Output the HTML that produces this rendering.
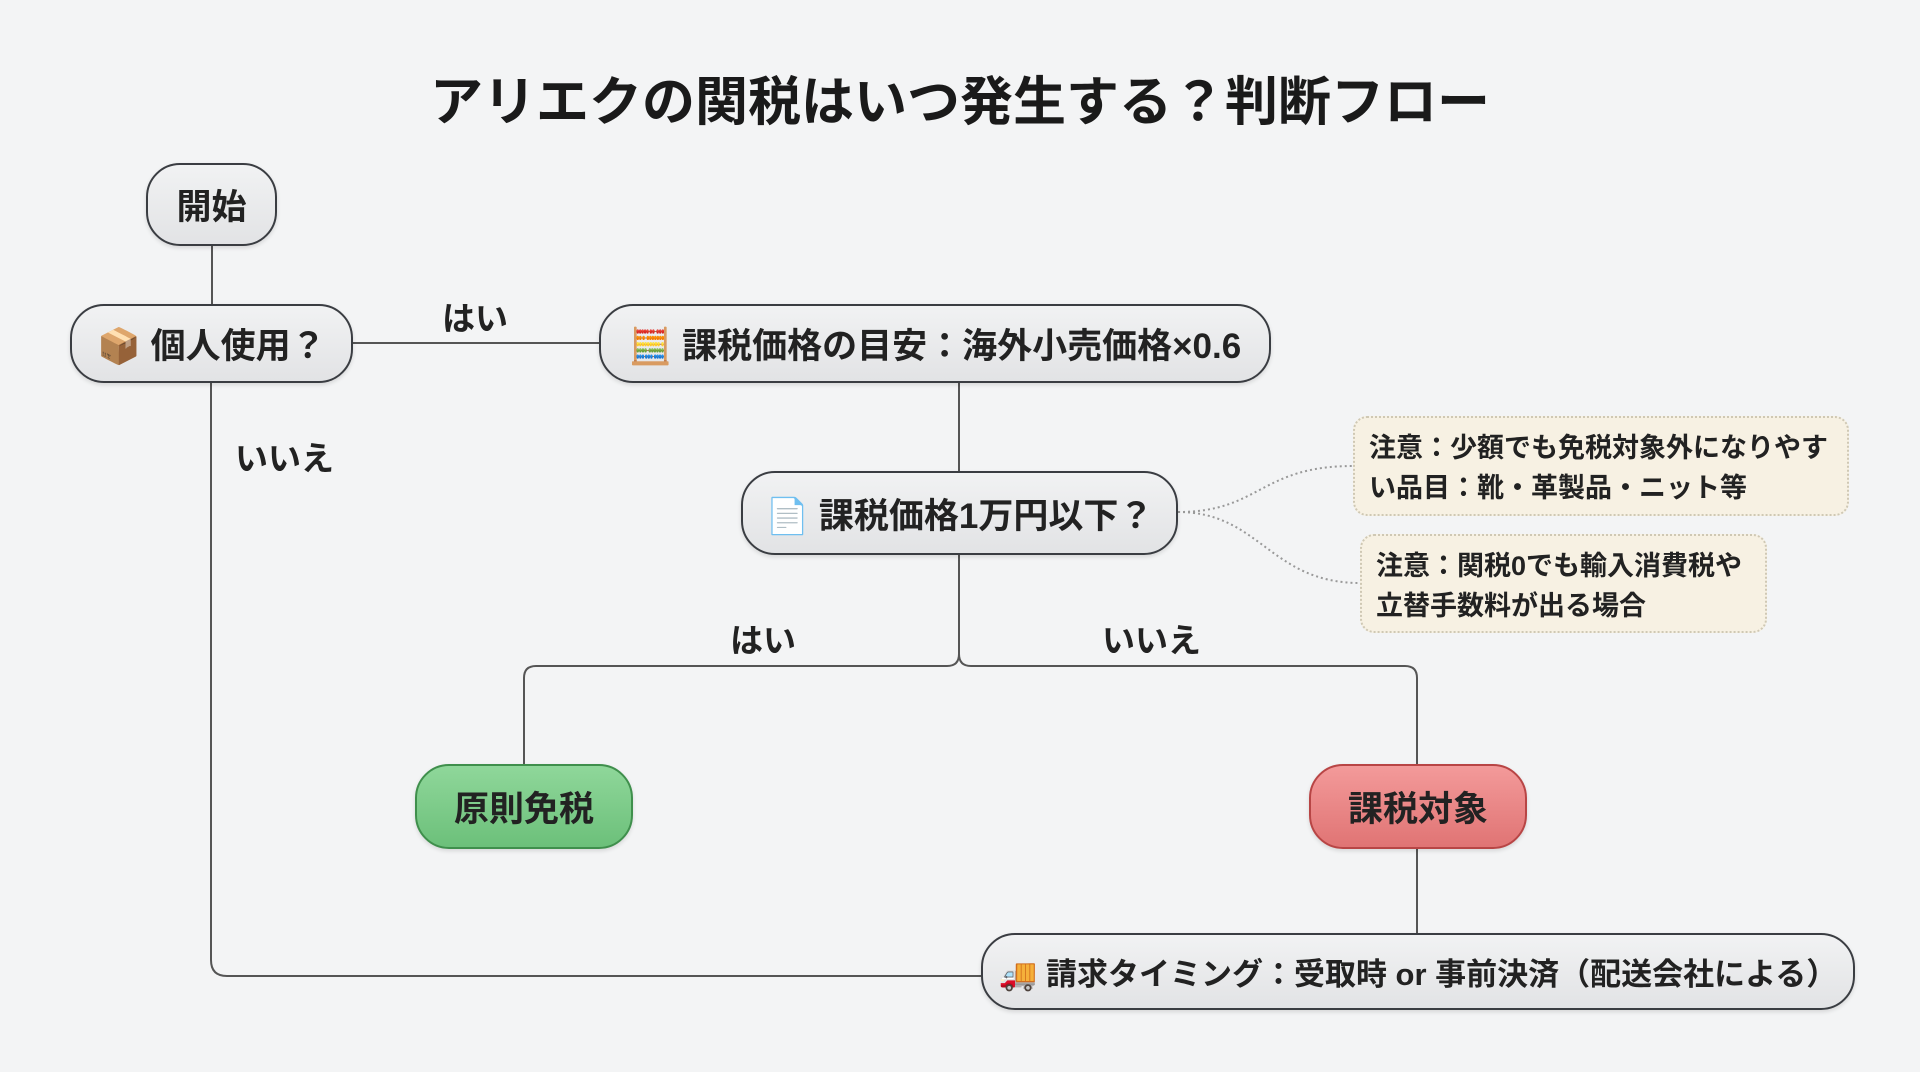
<!DOCTYPE html>
<html><head><meta charset="utf-8"><style>
body{margin:0;width:1920px;height:1072px;background:#f3f4f5;font-family:"Liberation Sans","Noto Sans CJK JP",sans-serif;overflow:hidden;position:relative}
.n{position:absolute;box-sizing:border-box;border:2px solid #3a3d42;border-radius:34px;background:linear-gradient(#f1f2f3,#e2e3e5);display:flex;align-items:center;justify-content:center;font-weight:bold;font-size:35px;color:#222;box-shadow:0 2px 4px rgba(0,0,0,.12);white-space:nowrap}
.note{position:absolute;box-sizing:border-box;border:2px dotted #cfc8b4;border-radius:14px;background:#f7f1e3;font-weight:bold;font-size:27px;color:#222;padding:10px 14px;line-height:40px}
.l{position:absolute;font-weight:bold;font-size:33px;color:#222}
.t{position:absolute;left:0;width:1920px;top:60px;text-align:center;font-weight:bold;font-size:53px;color:#1a1a1a}
</style></head><body>
<svg width="1920" height="1072" style="position:absolute;left:0;top:0">
<g stroke="#555" stroke-width="2" fill="none">
<line x1="212" y1="246" x2="212" y2="304"/>
<line x1="353" y1="343" x2="599" y2="343"/>
<path d="M211 383 V960 Q211 976 227 976 H981"/>
<line x1="959" y1="383" x2="959" y2="471"/>
<path d="M959 555 V654 Q959 666 947 666 H536 Q524 666 524 678 V764"/>
<path d="M959 654 Q959 666 971 666 H1405 Q1417 666 1417 678 V764"/>
<line x1="1417" y1="849" x2="1417" y2="933"/>
</g>
<g stroke="#999" stroke-width="2" stroke-dasharray="2 3" fill="none">
<path d="M1178 512 C1260 512 1260 466 1353 466"/>
<path d="M1178 512 C1260 512 1270 583 1360 583"/>
</g>
</svg>
<div class="t">アリエクの関税はいつ発生する？判断フロー</div>
<div class="n" style="left:146px;top:163px;width:131px;height:83px">開始</div>
<div class="n" style="left:70px;top:304px;width:283px;height:79px">📦 個人使用？</div>
<div class="n" style="left:599px;top:304px;width:672px;height:79px">🧮 課税価格の目安：海外小売価格×0.6</div>
<div class="n" style="left:741px;top:471px;width:437px;height:84px">📄 課税価格1万円以下？</div>
<div class="note" style="left:1353px;top:416px;width:496px;height:100px">注意：少額でも免税対象外になりやすい品目：靴・革製品・ニット等</div>
<div class="note" style="left:1360px;top:534px;width:407px;height:99px">注意：関税0でも輸入消費税や立替手数料が出る場合</div>
<div class="n" style="left:415px;top:764px;width:218px;height:85px;background:linear-gradient(#8fd79a,#6cc07a);border-color:#3f8f4c">原則免税</div>
<div class="n" style="left:1309px;top:764px;width:218px;height:85px;background:linear-gradient(#f39a9a,#e07474);border-color:#b84545">課税対象</div>
<div class="n" style="left:981px;top:933px;width:874px;height:77px;font-size:31px">🚚 請求タイミング：受取時 or 事前決済（配送会社による）</div>
<div class="l" style="left:442px;top:292px">はい</div>
<div class="l" style="left:235px;top:432px">いいえ</div>
<div class="l" style="left:730px;top:614px">はい</div>
<div class="l" style="left:1102px;top:614px">いいえ</div>
</body></html>
